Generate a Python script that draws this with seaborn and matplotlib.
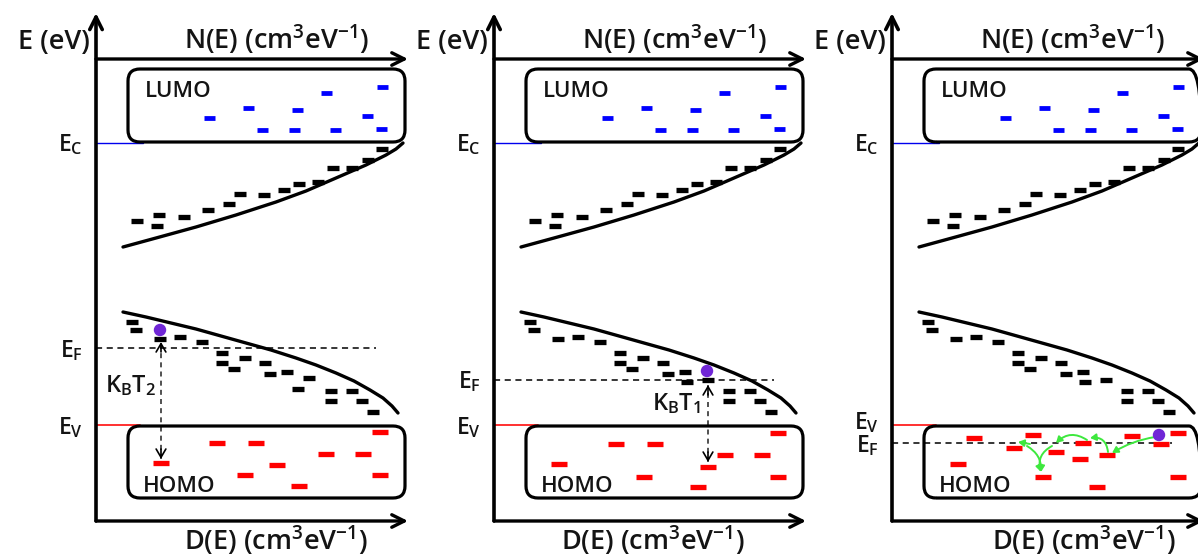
import matplotlib
matplotlib.use("Agg")
import matplotlib.pyplot as plt
from matplotlib.patches import FancyBboxPatch, FancyArrowPatch
import numpy as np
import pandas as pd
import seaborn as sns

# ---------------- data -------------------------------------------------------
# local units per panel: x = distance along D(E) from the energy axis,
#                        e = energy above the D(E) axis
TOP_LABEL = r"N(E) (cm$^\mathregular{3}$eV$^\mathregular{-1}$)"
BOTTOM_LABEL = r"D(E) (cm$^\mathregular{3}$eV$^\mathregular{-1}$)"
E_LABEL = "E (eV)"

LUMO_X = [113, 152, 166, 198, 201, 230, 239, 271, 286, 285]
LUMO_E = [403, 413, 391, 391, 411, 428, 391, 405, 434, 392]

CB_TAIL_X = [41, 63, 61, 88, 112, 133, 144, 168, 188, 203, 222, 237, 256, 272, 286]
CB_TAIL_E = [300, 306, 295, 304, 311, 317, 327, 326, 331, 337, 339, 353, 353, 361, 372]

CB_EDGE_X = [27, 60, 100, 140, 180, 210, 240, 270, 290, 300, 307]
CB_EDGE_E = [274, 283, 294, 306, 319, 330, 343, 356, 366, 372, 378]

VB_EDGE_X = [27, 50, 75, 100, 125, 150, 175, 200, 220, 240, 258, 274, 287, 296, 302]
VB_EDGE_E = [209, 204, 198, 192, 185, 178, 171, 163, 156, 148, 140, 131, 123, 115, 108]

VB_TAIL_X = [36, 40, 64, 84, 106, 126, 126, 138, 149, 169, 174, 191, 235, 235, 256, 266, 277]
VB_TAIL_E = [199, 191, 182, 184, 179, 168, 158, 152, 163, 158, 147, 149, 130, 120, 130, 120, 109]
VB_EXTRA_X = [[202, 213], [193, 214], [193, 214]]
VB_EXTRA_E = [[132, 143], [139, 141], [139, 141]]

HOMO_X = [
    [65, 121, 160, 149, 181, 203, 230, 267, 284, 284],
    [65, 122, 161, 150, 204, 214, 231, 268, 284, 284],
    [66, 82, 122, 141, 151, 164, 188, 191, 205, 215, 240, 269, 286, 286],
]
HOMO_E = [
    [58, 78, 78, 46, 56, 35, 67, 67, 89, 46],
    [57, 77, 77, 44, 34, 54, 66, 66, 88, 44],
    [57, 83, 73, 86, 44, 69, 62, 78, 34, 66, 85, 77, 88, 44],
]

E_C = 378
E_V = 96
E_F = [173, 141, 78]
EV_LABEL_BASE = [87, 87, 92]
EF_LABEL_BASE = [164, 133, 69]

DOT_X = [64, 213, 267]
DOT_E = [191, 150, 86]

KBT_TEXT = [r"K$_\mathregular{B}$T$_\mathregular{2}$", r"K$_\mathregular{B}$T$_\mathregular{1}$", None]
KBT_TEXT_X = [35, 182, None]
KBT_TEXT_E = [129, 111, None]
KBT_ARROW_X = [65, 214, None]
KBT_ARROW_TOP = [179, 136, None]
KBT_ARROW_BOT = [62, 59, None]

HOP_X0 = [263, 216, 195, 160, 135, 138]
HOP_E0 = [84, 69, 81, 75, 75, 77]
HOP_X1 = [220, 198, 164, 149, 149, 126]
HOP_E1 = [68, 83, 78, 49, 49, 79]
HOP_RAD = [0.1, 0.5, 0.4, 0.4, -0.3, 0.0]

BOTTOM_LABEL_X = [180, 159, 192]

# ---------------- layout / style ---------------------------------------------
W, H = 1198, 558
PANEL_ORIGIN = [96, 494, 892]
XMIN, XMAX = -96, 316
EMIN, EMAX = -37, 521
TXT = "#141414"
FW = "semibold"

sns.set_theme(style="white")
plt.rcParams["font.family"] = ["Open Sans", "DejaVu Sans"]
plt.rcParams["mathtext.default"] = "regular"

fig = plt.figure(figsize=(W / 100, H / 100), dpi=100)


def dashes(ax, xs, es, color, w_px, h_px):
    df = pd.DataFrame({"x": xs, "e": es})
    sns.scatterplot(data=df, x="x", y="e", ax=ax, marker="_", color=color,
                    s=(w_px * 0.72) ** 2, linewidth=h_px * 0.72, legend=False, zorder=4)


def arrow(ax, xy0, xy1, lw=2.4, hl=0.9, hw=0.45):
    ax.annotate("", xy=xy1, xytext=xy0,
                arrowprops=dict(arrowstyle=f"->,head_length={hl},head_width={hw}",
                                lw=lw, color="black", mutation_scale=10,
                                shrinkA=0, shrinkB=0))


for k, x0 in enumerate(PANEL_ORIGIN):
    ax = fig.add_axes([(x0 + XMIN) / W, 0, (XMAX - XMIN) / W, 1])
    ax.set_xlim(XMIN, XMAX)
    ax.set_ylim(EMIN, EMAX)
    ax.axis("off")

    # axes
    arrow(ax, (0, 0), (0, 508), lw=2.6)
    arrow(ax, (0, 462), (312, 462), lw=2.4)
    arrow(ax, (0, 0), (312, 0), lw=2.4)

    # axis labels
    ax.text(-6, 472, E_LABEL, ha="right", va="baseline", fontsize=19.5, color=TXT,
            fontweight=FW)
    ax.text(181, 472, TOP_LABEL, ha="center", va="baseline", fontsize=19.5, color=TXT,
            fontweight=FW)
    ax.text(BOTTOM_LABEL_X[k], -29, BOTTOM_LABEL, ha="center", va="baseline",
            fontsize=19.5, color=TXT, fontweight=FW)

    # LUMO / HOMO boxes
    for (bx0, be0, bx1, be1) in [(32, 379, 309, 452), (32, 23, 309, 95)]:
        ax.add_patch(FancyBboxPatch((bx0, be0), bx1 - bx0, be1 - be0,
                                    boxstyle="round,pad=0,rounding_size=12",
                                    fc="none", ec="black", lw=2.3, zorder=3))
    ax.text(49, 424, "LUMO", ha="left", va="baseline", fontsize=16, color=TXT,
            fontweight=FW)
    ax.text(47, 29, "HOMO", ha="left", va="baseline", fontsize=16, color=TXT,
            fontweight=FW)

    # band edge markers
    ax.plot([0, 47], [E_C, E_C], color="#0000ee", lw=1.0)
    ax.plot([0, 44], [E_V, E_V], color="#ff2020", lw=1.3)
    ax.plot([0, 280], [E_F[k], E_F[k]], color="black", lw=1.1, dashes=(4, 3))
    ax.text(-13, E_C - 8, r"E$_\mathregular{C}$", ha="right", va="baseline",
            fontsize=16.5, color=TXT, fontweight=FW)
    ax.text(-13, EV_LABEL_BASE[k], r"E$_\mathregular{V}$", ha="right", va="baseline",
            fontsize=16.5, color=TXT, fontweight=FW)
    ax.text(-13, EF_LABEL_BASE[k], r"E$_\mathregular{F}$", ha="right", va="baseline",
            fontsize=16.5, color=TXT, fontweight=FW)

    # tail-state edges
    sns.lineplot(x=CB_EDGE_X, y=CB_EDGE_E, ax=ax, color="black", lw=2.4, sort=False)
    sns.lineplot(x=VB_EDGE_X, y=VB_EDGE_E, ax=ax, color="black", lw=2.4, sort=False)

    # localized states
    dashes(ax, LUMO_X, LUMO_E, "#0000ff", 11, 4.8)
    dashes(ax, CB_TAIL_X, CB_TAIL_E, "black", 12, 5.3)
    dashes(ax, VB_TAIL_X + VB_EXTRA_X[k], VB_TAIL_E + VB_EXTRA_E[k], "black", 12, 5.3)
    dashes(ax, HOMO_X[k], HOMO_E[k], "#ff0000", 16, 5.3)

    # hopping carrier
    if k == 2:
        for xa, ea, xb, eb, r in zip(HOP_X0, HOP_E0, HOP_X1, HOP_E1, HOP_RAD):
            ax.add_patch(FancyArrowPatch((xa, ea), (xb, eb),
                                         connectionstyle=f"arc3,rad={r}",
                                         arrowstyle="-|>,head_length=3.5,head_width=2",
                                         color="#3ee83e", lw=1.4, shrinkA=0, shrinkB=0,
                                         zorder=6))
    ax.scatter([DOT_X[k]], [DOT_E[k]], s=80, marker="o", color="#7026d6",
               edgecolor="none", zorder=7)

    # thermal activation arrow
    if KBT_TEXT[k] is not None:
        xa = KBT_ARROW_X[k]
        ax.plot([xa, xa], [KBT_ARROW_BOT[k], KBT_ARROW_TOP[k]], color="#333333",
                lw=1.2, dashes=(3, 2.5))
        arrow(ax, (xa, KBT_ARROW_TOP[k] - 10), (xa, KBT_ARROW_TOP[k]), lw=1.2, hl=0.6, hw=0.35)
        arrow(ax, (xa, KBT_ARROW_BOT[k] + 10), (xa, KBT_ARROW_BOT[k]), lw=1.2, hl=0.6, hw=0.35)
        ax.text(KBT_TEXT_X[k], KBT_TEXT_E[k], KBT_TEXT[k], ha="center", va="baseline",
                fontsize=17, color=TXT, fontweight=FW)

fig.savefig("out.png", dpi=100)
